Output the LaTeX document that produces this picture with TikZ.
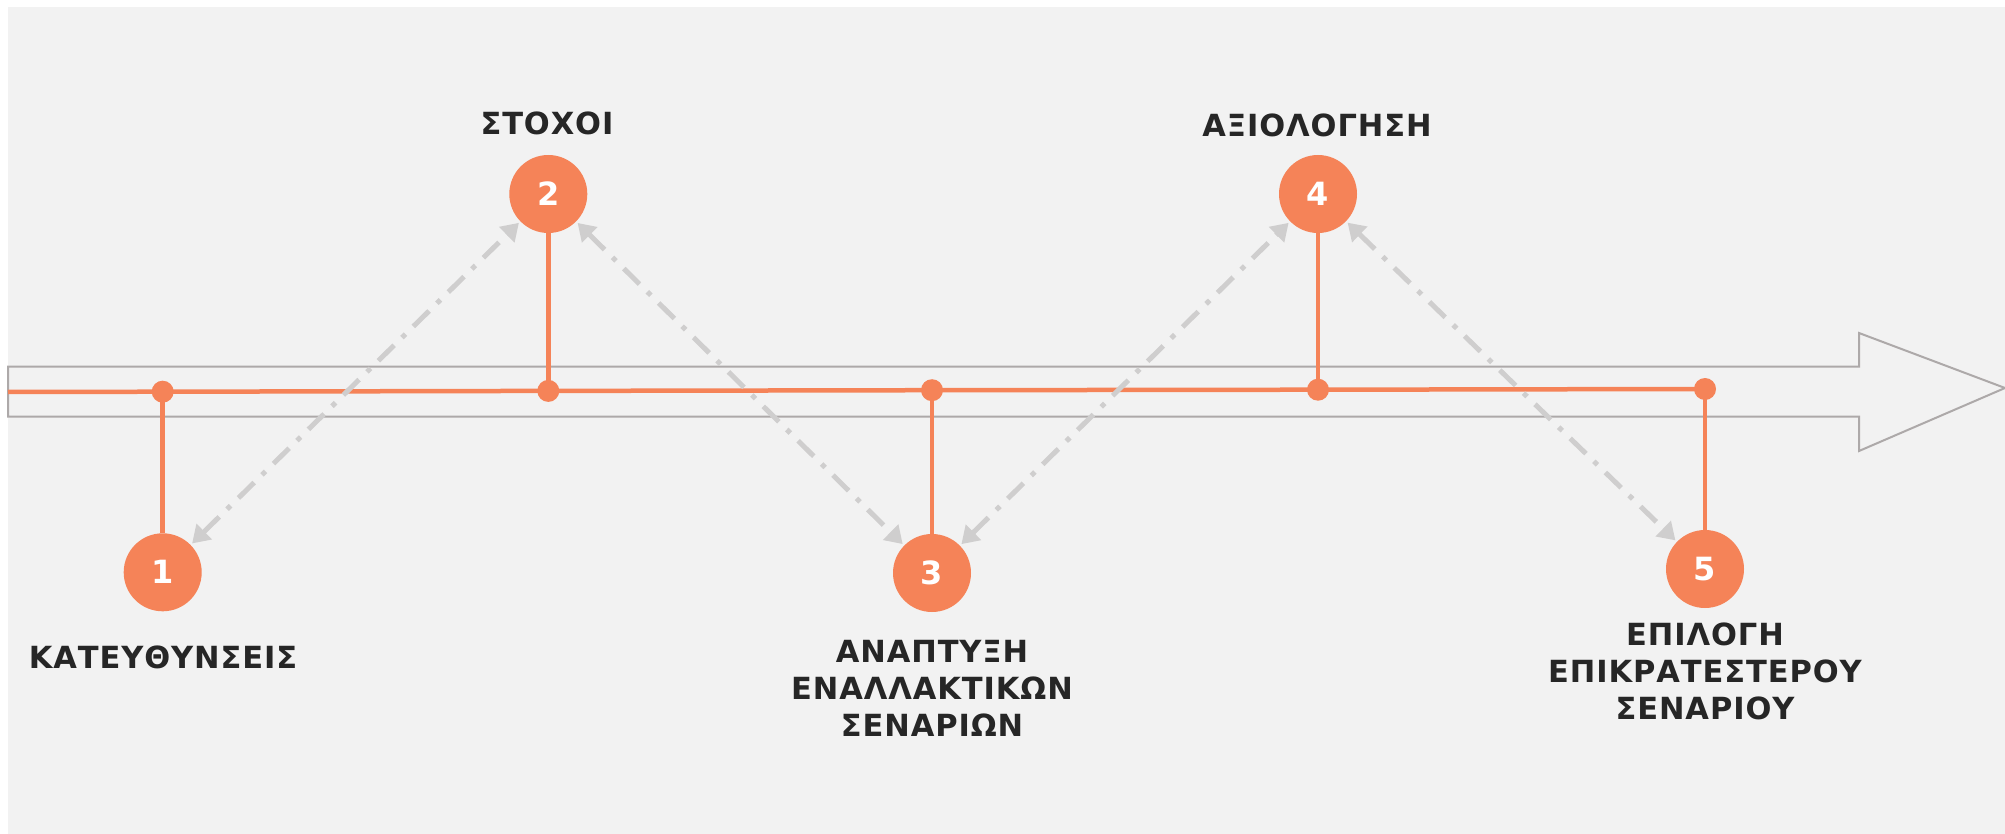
\documentclass[tikz,border=0pt]{standalone}
\usepackage{fontspec}
\setmainfont{DejaVu Sans}
\newfontfamily\lblfont[LetterSpace=3]{DejaVu Sans Bold}
\newfontfamily\numfont{DejaVu Sans Bold}
\usetikzlibrary{arrows.meta}
\definecolor{bg}{HTML}{F2F2F2}
\definecolor{org}{HTML}{F58358}
\definecolor{txt}{HTML}{262626}
\definecolor{outl}{HTML}{ADA9A9}
\definecolor{conn}{HTML}{CFCECE}
\tikzset{
  circ/.style={circle,fill=org,minimum size=78pt,inner sep=0pt,text=white,font=\numfont\fontsize{32}{36}\selectfont},
  dotn/.style={circle,fill=org,minimum size=22pt,inner sep=0pt},
  lbl/.style={text=txt,font=\lblfont\fontsize{30.5}{37}\selectfont,align=center,inner sep=0pt},
  stem/.style={draw=org,line width=4.5pt},
  link/.style={draw=conn,line width=5pt,dash pattern=on 22pt off 11pt on 5pt off 11pt,
    {Triangle[length=17pt,width=21pt]}-{Triangle[length=17pt,width=21pt]},shorten >=2pt,shorten <=2pt}
}
\begin{document}
\begin{tikzpicture}[x=1pt,y=-1pt]
\useasboundingbox (0,0) rectangle (2005,834);
\fill[bg] (8,7) rectangle (2005,834);
% big arrow outline
\draw[outl,line width=2pt,line join=miter] (8,366.7) -- (1859,366.7) -- (1859,333) -- (2005,388) -- (1859,451) -- (1859,416.7) -- (8,416.7) -- cycle;
% main line
\coordinate (start) at (8,392);
\node[dotn] (d1) at (162.7,391.7) {};
\node[dotn] (d2) at (548.3,390.9) {};
\node[dotn] (d3) at (932,390.2) {};
\node[dotn] (d4) at (1318,389.7) {};
\node[dotn] (d5) at (1705,389) {};
\draw[org,line width=4.5pt] (start) -- (d1.center) -- (d2.center) -- (d3.center) -- (d4.center) -- (d5.center);
% circles
\node[circ] (c1) at (162.7,572.3) {1};
\node[circ] (c2) at (548.3,194) {2};
\node[circ] (c3) at (932,573) {3};
\node[circ] (c4) at (1318,194) {4};
\node[circ] (c5) at (1705,569) {5};
\draw[stem] (d1.center) -- (c1);
\draw[stem] (d2.center) -- (c2);
\draw[stem] (d3.center) -- (c3);
\draw[stem] (d4.center) -- (c4);
\draw[stem] (d5.center) -- (c5);
% connectors
\draw[link] (c1) -- (c2);
\draw[link] (c2) -- (c3);
\draw[link] (c3) -- (c4);
\draw[link] (c4) -- (c5);
% labels
\node[lbl] (l1) at (163,657) {ΚΑΤΕΥΘΥΝΣΕΙΣ};
\node[lbl] (l2) at (547,123) {ΣΤΟΧΟΙ};
\node[lbl] (l3) at (932,688) {ΑΝΑΠΤΥΞΗ\\ΕΝΑΛΛΑΚΤΙΚΩΝ\\ΣΕΝΑΡΙΩΝ};
\node[lbl] (l4) at (1317,125) {ΑΞΙΟΛΟΓΗΣΗ};
\node[lbl] (l5) at (1705,671) {ΕΠΙΛΟΓΗ\\ΕΠΙΚΡΑΤΕΣΤΕΡΟΥ\\ΣΕΝΑΡΙΟΥ};
\end{tikzpicture}
\end{document}
